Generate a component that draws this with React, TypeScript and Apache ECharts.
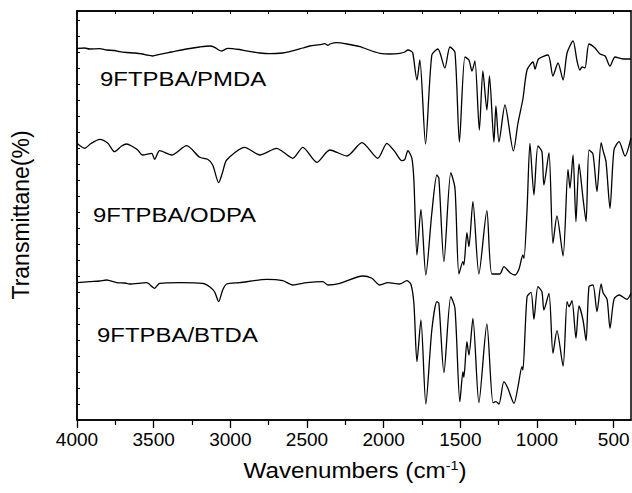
import React, { useEffect, useRef } from "react";
import * as echarts from "echarts";

// Wavenumber ticks (cm^-1)
const majorTicks = [500, 1000, 1500, 2000, 2500, 3000, 3500, 4000];
const minorTicks = [750, 1250, 1750, 2250, 2750, 3250, 3750];
const allTicks = [500, 750, 1000, 1250, 1500, 1750, 2000, 2250, 2500, 2750, 3000, 3250, 3500, 3750, 4000];

const sampleNames = ["9FTPBA/PMDA", "9FTPBA/ODPA", "9FTPBA/BTDA"];
const xTitle = "Wavenumbers (cm";
const xTitleSup = "-1";
const yTitle = "Transmittane(%)";

// Spectra as [wavenumber, offset transmittance (arbitrary units)]
const pmdaSpectrum: [number, number][] = [
  [4000, 371.5], [3950, 372], [3918, 371], [3852, 371.3], [3807, 370], [3755, 369.5], [3722, 368.3],
  [3676, 367.5], [3624, 367], [3572, 366], [3546, 365], [3507, 364], [3461, 365.7], [3383, 368],
  [3285, 371], [3200, 373], [3135, 374], [3102, 372.7], [3076, 370], [3056, 369], [3017, 371.7],
  [2939, 370.5], [2906, 369.3], [2808, 367], [2743, 366.3], [2658, 367], [2612, 368.3], [2527, 372],
  [2482, 374], [2417, 375.3], [2384, 376.3], [2364, 374.7], [2351, 376], [2306, 377.3], [2240, 376],
  [2155, 373.3], [2077, 369], [2025, 366.7], [1960, 366], [1894, 366.7], [1862, 368], [1842, 370],
  [1823, 369], [1810, 367], [1783, 340], [1764, 360], [1727, 276], [1686, 365], [1646, 371],
  [1601, 352], [1568, 373], [1535, 367.5], [1506, 278], [1470, 363], [1444, 360], [1424, 349],
  [1405, 359], [1376, 290], [1353, 349], [1327, 310], [1310, 344], [1281, 278], [1268, 314],
  [1248, 278], [1209, 315], [1154, 269], [1124, 297], [1092, 321], [1065, 350], [1026, 358],
  [1013, 351], [990, 361], [928, 365], [896, 344], [863, 357], [830, 340], [804, 367], [765, 379],
  [739, 359], [720, 350], [706, 353], [687, 352], [661, 376], [622, 372], [589, 366], [556, 364],
  [524, 354], [491, 363], [439, 361], [387, 361],
];

const odpaSpectrum: [number, number][] = [
  [4000, 276.7], [3950, 271.7], [3907, 276.7], [3852, 280.7], [3800, 277], [3755, 268.3], [3709, 274],
  [3676, 276], [3644, 274], [3604, 270], [3572, 265], [3513, 266.7], [3494, 260.7], [3461, 269.3],
  [3383, 265], [3285, 274.3], [3200, 262.7], [3148, 260.7], [3115, 255], [3076, 237.3], [3050, 248],
  [3024, 260], [2906, 272.7], [2808, 265], [2697, 271.7], [2658, 268.3], [2593, 261.7], [2527, 272.7],
  [2436, 257.7], [2351, 270], [2240, 264], [2142, 277.3], [2038, 261.7], [1979, 276.7], [1927, 268.3],
  [1881, 259.3], [1862, 260.7], [1842, 269.3], [1816, 261.7], [1803, 240], [1783, 165], [1757, 210.7],
  [1725, 145], [1686, 206.7], [1653, 245], [1640, 241.7], [1607, 158.3], [1562, 247.3], [1535, 231.7],
  [1509, 146], [1483, 158.3], [1477, 155], [1457, 187.3], [1444, 173.3], [1418, 218.3], [1379, 146],
  [1327, 209.3], [1294, 146], [1242, 146], [1216, 153.3], [1176, 147.3], [1144, 145], [1118, 150.7],
  [1092, 165], [1085, 161.7], [1065, 210], [1046, 276.7], [1020, 225], [994, 274], [968, 268.3],
  [955, 235], [922, 267.3], [896, 176.7], [870, 204], [830, 164], [798, 250.7], [785, 231.7],
  [765, 265], [746, 198.3], [726, 256], [700, 221.7], [680, 198.3], [661, 270], [635, 266],
  [609, 228.3], [582, 277.3], [569, 269.3], [550, 258.3], [524, 211.7], [498, 270], [465, 278.3],
  [426, 264], [387, 282],
];

const btdaSpectrum: [number, number][] = [
  [4000, 137.3], [3918, 138.3], [3852, 139], [3807, 140], [3742, 137.3], [3689, 137], [3657, 136],
  [3546, 137.3], [3494, 131.7], [3461, 136.7], [3330, 137.3], [3180, 136.7], [3135, 133.3], [3102, 128],
  [3076, 118.3], [3050, 130], [3024, 136], [2939, 137.3], [2762, 140.7], [2658, 139.3], [2593, 135],
  [2501, 137.3], [2397, 138.3], [2364, 135], [2286, 136.7], [2136, 144], [2077, 141.7], [2025, 135],
  [1973, 137.3], [1894, 136], [1849, 139.3], [1823, 136], [1803, 116.7], [1783, 58.3], [1757, 100],
  [1725, 16], [1686, 90], [1653, 118.3], [1640, 116.7], [1607, 47.3], [1562, 123.3], [1535, 111.7],
  [1503, 18.3], [1483, 48.3], [1477, 42.7], [1457, 78.3], [1444, 65], [1418, 101.7], [1379, 17.3],
  [1327, 96], [1287, 17.3], [1268, 18.3], [1248, 16], [1216, 38.3], [1190, 31.7], [1150, 16.7],
  [1124, 33.3], [1098, 53.3], [1092, 50], [1065, 123.3], [1039, 127.7], [1020, 100.7], [994, 133.3],
  [968, 128.3], [955, 110], [922, 126.7], [896, 66.7], [870, 89.3], [830, 54], [804, 118.3],
  [791, 113.3], [772, 119.3], [746, 81.7], [726, 114], [700, 100], [680, 79.3], [661, 133.3],
  [635, 135], [609, 108.3], [582, 136], [569, 127.3], [543, 120.7], [524, 91.7], [498, 120.7],
  [465, 125], [413, 120.7], [387, 126.7],
];

const FONT = "'Liberation Sans', Arial, sans-serif";

export default function App() {
  const ref = useRef<HTMLDivElement>(null);
  useEffect(() => {
    if (!ref.current) return;
    const chart = echarts.init(ref.current, null, { renderer: "svg" });
    const axisLineStyle = { show: true, onZero: false, lineStyle: { color: "#000", width: 1.5 } };
    const xBase = {
      type: "value" as const,
      min: 387,
      max: 4000,
      inverse: true,
      gridIndex: 0,
      splitLine: { show: false },
    };
    const lineStyle = { color: "#000", width: 1.3 };
    const GL = 77, GT = 11, GR = 1, GB = 73;
    const W = 632, H = 493;
    chart.setOption({
      animation: false,
      backgroundColor: "#fff",
      grid: {
        left: GL,
        right: GR,
        top: GT,
        bottom: GB,
        outerBoundsMode: "none",
        containLabel: false,
        show: false,
      },
      xAxis: [
        {
          ...xBase,
          position: "bottom",
          axisLine: axisLineStyle,
          axisTick: { show: true, inside: false, length: 8, customValues: majorTicks, lineStyle: { color: "#000", width: 1.3 } },
          axisLabel: {
            show: true,
            customValues: majorTicks,
            fontSize: 19,
            color: "#000",
            margin: 10,
            fontFamily: FONT,
            formatter: (v: number) => String(v),
          },
        },
        {
          ...xBase,
          position: "bottom",
          axisLine: { show: false, onZero: false },
          axisTick: { show: true, inside: false, length: 5, customValues: minorTicks, lineStyle: { color: "#000", width: 1.2 } },
          axisLabel: { show: false },
        },
        {
          ...xBase,
          position: "top",
          axisLine: axisLineStyle,
          axisTick: { show: true, inside: true, length: 3, customValues: allTicks, lineStyle: { color: "#000", width: 1 } },
          axisLabel: { show: false },
        },
      ],
      yAxis: [
        {
          type: "value",
          position: "left",
          min: 0,
          max: 409,
          interval: 16,
          splitLine: { show: false },
          axisLine: axisLineStyle,
          axisLabel: { show: false },
          axisTick: { show: true, inside: true, length: 3, lineStyle: { color: "#000", width: 1 } },
        },
      ],
      series: [pmdaSpectrum, odpaSpectrum, btdaSpectrum].map((data, i) => ({
        type: "line",
        name: sampleNames[i],
        xAxisIndex: 0,
        yAxisIndex: 0,
        data,
        showSymbol: false,
        smooth: 0.25,
        lineStyle,
        silent: true,
      })),
      graphic: [
        {
          type: "rect",
          z: 100,
          silent: true,
          shape: { x: GL, y: GT, width: W - GL - GR, height: H - GT - GB },
          style: { fill: "none", stroke: "#000", lineWidth: 1.5 },
        },
        {
          type: "text",
          x: 100,
          y: 79,
          scaleX: 1.14,
          style: { text: sampleNames[0], fontSize: 21, fontFamily: FONT, fill: "#000", textAlign: "left", textVerticalAlign: "middle" },
        },
        {
          type: "text",
          x: 93,
          y: 215,
          scaleX: 1.14,
          style: { text: sampleNames[1], fontSize: 21, fontFamily: FONT, fill: "#000", textAlign: "left", textVerticalAlign: "middle" },
        },
        {
          type: "text",
          x: 97,
          y: 335,
          scaleX: 1.14,
          style: { text: sampleNames[2], fontSize: 21, fontFamily: FONT, fill: "#000", textAlign: "left", textVerticalAlign: "middle" },
        },
        {
          type: "text",
          x: 21,
          y: 215,
          rotation: Math.PI / 2,
          style: { text: yTitle, fontSize: 23, fontFamily: FONT, fill: "#000", textAlign: "center", textVerticalAlign: "middle" },
        },
        {
          type: "text",
          x: 355,
          y: 470,
          scaleX: 1.1,
          style: {
            text: `{a|${xTitle}}{s|${xTitleSup}}{a|)}`,
            fontFamily: FONT,
            fill: "#000",
            textAlign: "center",
            textVerticalAlign: "middle",
            rich: {
              a: { fontSize: 22, fontFamily: FONT, fill: "#000", verticalAlign: "bottom" },
              s: { fontSize: 13, fontFamily: FONT, fill: "#000", verticalAlign: "top" },
            },
          },
        },
      ],
    });
    return () => chart.dispose();
  }, []);
  return (
    <div
      ref={ref}
      style={{ position: "fixed", left: 0, top: 0, width: 632, height: 493, background: "#fff" }}
    />
  );
}
